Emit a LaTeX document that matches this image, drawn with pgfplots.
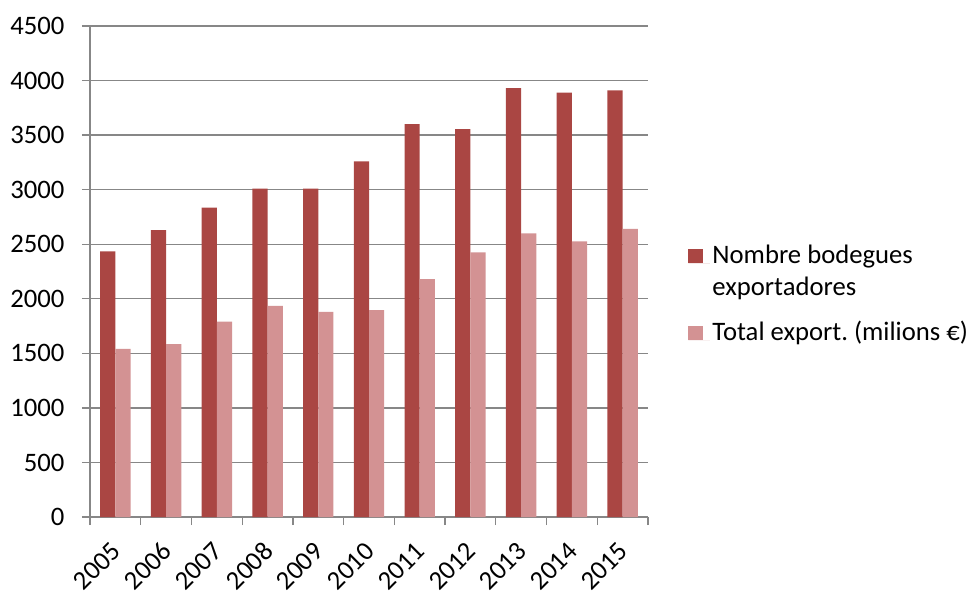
\documentclass[border=0pt]{standalone}
\usepackage{pgfplots}
\pgfplotsset{compat=1.18}
\usepackage{fontspec}
\setmainfont{Carlito}
\frenchspacing
\definecolor{darkred}{HTML}{AA4643}
\definecolor{lightred}{HTML}{D39293}
\definecolor{gridgray}{HTML}{878787}
\begin{document}
\begin{tikzpicture}
\fontsize{20pt}{24pt}\selectfont
\begin{axis}[
  at={(0,0)}, anchor=south west,
  scale only axis,
  width=418.5pt, height=368.25pt,
  ybar=0pt, bar width=0.3,
  xmin=-0.5, xmax=10.5,
  ymin=0, ymax=4500,
  ytick={0,500,...,4500},
  xtick={0,...,10},
  xticklabels={2005,2006,2007,2008,2009,2010,2011,2012,2013,2014,2015},
  minor xtick={-0.5,0.5,...,10.5},
  axis x line*=bottom, axis y line*=left,
  axis line style={gridgray, line width=1pt, -},
  ymajorgrids, major grid style={gridgray, line width=1pt},
  tick align=outside,
  major tick length=6pt, minor tick length=6pt,
  x tick style={draw=none},
  minor x tick style={draw=gridgray, line width=1pt},
  y tick style={draw=gridgray, line width=1pt},
  /pgf/number format/assume math mode=true,
  /pgf/number format/1000 sep={},
  ticklabel style={font=\fontsize{20pt}{24pt}\selectfont},
  x tick label style={rotate=45, anchor=east, inner sep=0pt, xshift=-11pt, yshift=-12pt},
  y tick label style={inner sep=0pt, xshift=-13pt},
  legend style={draw=none, at={(1.072,0.568)}, anchor=north west, inner sep=0pt,
    font=\fontsize{20pt}{24pt}\selectfont,
    cells={anchor=base west}, row sep=36pt},
  legend image code/.code={\path (0pt,0pt) -- (16pt,0pt); \fill[#1] (0pt,0pt) rectangle (11pt,11pt);},
]
\addplot[fill=darkred, draw=none] coordinates {
(0,2435) (1,2630) (2,2835) (3,3010) (4,3010) (5,3260) (6,3600) (7,3555) (8,3930) (9,3890) (10,3910)};
\addplot[fill=lightred, draw=none] coordinates {
(0,1540) (1,1585) (2,1790) (3,1935) (4,1880) (5,1895) (6,2180) (7,2425) (8,2600) (9,2525) (10,2640)};
\legend{\begin{tabular}[t]{@{}l@{}}Nombre bodegues\\exportadores\end{tabular}, Total export. (milions €)}
\end{axis}
\pgfresetboundingbox
\path (-67.5pt,-54.75pt) rectangle (660.75pt,387.75pt);
\end{tikzpicture}
\end{document}
